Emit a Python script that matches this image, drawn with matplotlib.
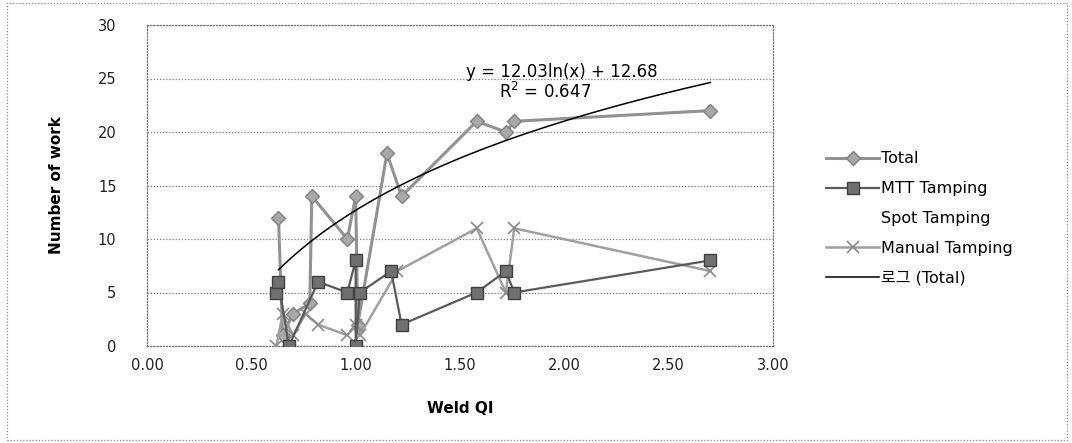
#!/usr/bin/env python3
import matplotlib
matplotlib.use("Agg")
import matplotlib.pyplot as plt
from matplotlib.patches import Rectangle
import numpy as np

plt.rcParams['font.family'] = ['DejaVu Sans', 'Noto Sans CJK KR']

# values (Weld QI vs number of work)
x_total = [0.63, 0.65, 0.70, 0.78, 0.79, 0.96, 1.00, 1.01, 1.15, 1.22, 1.58, 1.72, 1.76, 2.70]
y_total = [12, 1, 3, 4, 14, 10, 14, 2, 18, 14, 21, 20, 21, 22]

x_mtt = [0.62, 0.63, 0.68, 0.82, 0.96, 1.00, 1.00, 1.02, 1.17, 1.22, 1.58, 1.72, 1.76, 2.70]
y_mtt = [5, 6, 0, 6, 5, 8, 0, 5, 7, 2, 5, 7, 5, 8]

x_manual = [0.62, 0.65, 0.70, 0.76, 0.82, 0.96, 1.00, 1.02, 1.20, 1.58, 1.72, 1.76, 2.70]
y_manual = [0, 3, 1, 3, 2, 1, 2, 1, 7, 11, 5, 11, 7]

# log trendline of Total as printed on the chart
trend_a, trend_b = 12.03, 12.68
trend_label = "y = 12.03ln(x) + 12.68"
r2_label = "R$^2$ = 0.647"

xticks = [0.0, 0.5, 1.0, 1.5, 2.0, 2.5, 3.0]
yticks = [0, 5, 10, 15, 20, 25, 30]

fig = plt.figure(figsize=(10.72, 4.43), dpi=100)
ax = fig.add_axes([147/1072, 1 - 346/443, (773 - 147)/1072, (346 - 25)/443])

ax.plot(x_total, y_total, color='#929292', lw=2.2, marker='D', ms=7,
        mfc='#a8a8a8', mec='#808080', label='Total', zorder=3)
ax.plot(x_mtt, y_mtt, color='#5a5a5a', lw=1.6, marker='s', ms=8,
        mfc='#707070', mec='#404040', label='MTT Tamping', zorder=4)
ax.plot([], [], ls='none', label='Spot Tamping')
ax.plot(x_manual, y_manual, color='#a0a0a0', lw=1.8, marker='x', ms=9,
        mec='#8a8a8a', mew=1.2, label='Manual Tamping', zorder=3)

xt = np.linspace(min(x_total), max(x_total), 200)
ax.plot(xt, trend_a*np.log(xt) + trend_b, color='black', lw=1.1,
        label='로그 (Total)', zorder=5)

ax.text(1.99, 25.6, trend_label, fontsize=12, ha='center', va='center')
ax.text(1.91, 23.7, r2_label, fontsize=12, ha='center', va='center')

ax.set_xlim(0, 3)
ax.set_ylim(0, 30)
ax.set_xticks(xticks)
ax.set_xticklabels(['{:.2f}'.format(v) for v in xticks])
ax.set_yticks(yticks)
ax.tick_params(length=0, labelsize=10.5, colors='#222222')
ax.tick_params(axis='y', pad=22)
ax.tick_params(axis='x', pad=9)
ax.grid(axis='y', color='#777777', ls=(0, (1, 1.5)), lw=0.9)
for s in ax.spines.values():
    s.set_color('#777777')
    s.set_linestyle((0, (1, 1.5)))
    s.set_linewidth(0.9)

ax.set_xlabel('Weld QI', fontsize=11, fontweight='bold', labelpad=20)
ax.set_ylabel('Number of work', fontsize=11, fontweight='bold', labelpad=24)

fig.legend(loc='upper left', bbox_to_anchor=(812/1072, 1 - 137/443), frameon=False,
           fontsize=11.5, handlelength=3.3, labelspacing=0.93, handletextpad=0.1)

fig.patches.append(Rectangle((7/1072, 3/443), 1060/1072, 437/443, transform=fig.transFigure,
                             fill=False, ec='#888888', ls=(0, (1, 1.5)), lw=0.9))

fig.savefig('out.png', dpi=100)
